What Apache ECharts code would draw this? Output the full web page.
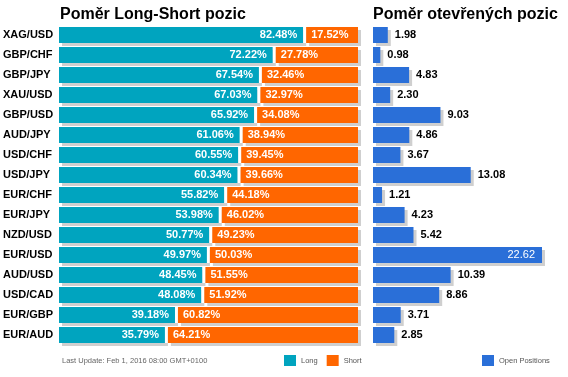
<!DOCTYPE html>
<html>
<head>
<meta charset="utf-8">
<script src="https://cdn.jsdelivr.net/npm/echarts@6/dist/echarts.min.js"></script>
<style>
html,body{margin:0;padding:0;background:#fff}
#chart{width:568px;height:377px}
</style>
</head>
<body>
<div id="chart"></div>
<script>
var pairs = ["XAG/USD","GBP/CHF","GBP/JPY","XAU/USD","GBP/USD","AUD/JPY","USD/CHF","USD/JPY","EUR/CHF","EUR/JPY","NZD/USD","EUR/USD","AUD/USD","USD/CAD","EUR/GBP","EUR/AUD"];
var longPct = [82.48,72.22,67.54,67.03,65.92,61.06,60.55,60.34,55.82,53.98,50.77,49.97,48.45,48.08,39.18,35.79];
var shortPct = [17.52,27.78,32.46,32.97,34.08,38.94,39.45,39.66,44.18,46.02,49.23,50.03,51.55,51.92,60.82,64.21];
var openPos = [1.98,0.98,4.83,2.30,9.03,4.86,3.67,13.08,1.21,4.23,5.42,22.62,10.39,8.86,3.71,2.85];

var font = "'Liberation Sans', Arial, sans-serif";
var shadow = {shadowColor: "#cfcfcf", shadowBlur: 0, shadowOffsetX: 3, shadowOffsetY: 3};
var maxOpen = Math.max.apply(null, openPos);
// white gap between long and short parts (in % units)
var gapPct = 1;
var gapData = pairs.map(function() { return gapPct; });

var chart = echarts.init(document.getElementById("chart"), null, {renderer: "canvas"});

function pct(p) { return p.value.toFixed(2) + "%"; }

var option = {
	animation: false,
	textStyle: {fontFamily: font},
	title: [
		{text: "Poměr Long-Short pozic", left: 60, top: 7, padding: 0, textStyle: {fontSize: 16, fontWeight: "bold", color: "#000", fontFamily: font}},
		{text: "Poměr otevřených pozic", left: 373, top: 7, padding: 0, textStyle: {fontSize: 16, fontWeight: "bold", color: "#000", fontFamily: font}}
	],
	legend: [
		{data: ["Long", "Short"], left: 284, top: 355, padding: 0, icon: "rect", itemWidth: 12, itemHeight: 11, itemGap: 9,
			textStyle: {fontSize: 7.5, color: "#555", fontFamily: font}},
		{data: ["Open Positions"], left: 482, top: 355, padding: 0, icon: "rect", itemWidth: 12, itemHeight: 11,
			textStyle: {fontSize: 7.5, color: "#555", fontFamily: font}}
	],
	graphic: [
		{type: "text", left: 62, top: 357, style: {text: "Last Update: Feb 1, 2016 08:00 GMT+0100", fontSize: 7.5, fill: "#666", fontFamily: font}}
	],
	grid: [
		{left: 59, right: 210, top: 25, bottom: 32},
		{left: 373, right: 26, top: 25, bottom: 32}
	],
	xAxis: [
		{gridIndex: 0, type: "value", min: 0, max: 100 + gapPct, show: false},
		{gridIndex: 1, type: "value", min: 0, max: maxOpen, show: false}
	],
	yAxis: [
		{gridIndex: 0, type: "category", data: pairs, inverse: true,
			axisLine: {show: false}, axisTick: {show: false}, splitLine: {show: false},
			axisLabel: {align: "left", margin: 56, fontSize: 11, fontWeight: "bold", color: "#000", fontFamily: font}},
		{gridIndex: 1, type: "category", data: pairs, inverse: true, show: false}
	],
	series: [
		{name: "Long", type: "bar", stack: "ls", xAxisIndex: 0, yAxisIndex: 0, data: longPct, barWidth: 16,
			itemStyle: Object.assign({color: "#00a4bf"}, shadow),
			label: {show: true, position: "insideRight", distance: 6, formatter: pct,
				color: "#fff", fontSize: 11, fontWeight: "bold", fontFamily: font}},
		{name: "gap", type: "bar", stack: "ls", xAxisIndex: 0, yAxisIndex: 0, data: gapData, barWidth: 16,
			silent: true, itemStyle: {color: "#fff"}, label: {show: false}},
		{name: "Short", type: "bar", stack: "ls", xAxisIndex: 0, yAxisIndex: 0, data: shortPct, barWidth: 16,
			itemStyle: Object.assign({color: "#ff6600"}, shadow),
			label: {show: true, position: "insideLeft", distance: 5, formatter: pct,
				color: "#fff", fontSize: 11, fontWeight: "bold", fontFamily: font}},
		{name: "Open Positions", type: "bar", xAxisIndex: 1, yAxisIndex: 1, barWidth: 16,
			data: openPos.map(function(v) {
				var inside = v === maxOpen;
				return {value: v, label: inside ? {position: "insideRight", color: "#fff", fontWeight: "normal"} : {}};
			}),
			itemStyle: Object.assign({color: "#2a6fd8"}, shadow),
			label: {show: true, position: "right", distance: 7, formatter: function(p) { return p.value.toFixed(2); },
				color: "#000", fontSize: 11, fontWeight: "bold", fontFamily: font}}
	]
};

chart.setOption(option);
</script>
</body>
</html>
